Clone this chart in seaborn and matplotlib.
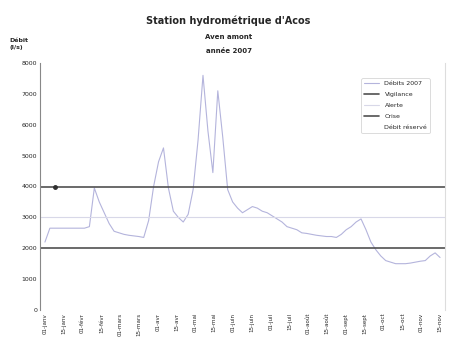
import numpy as np
import pandas as pd
import matplotlib
matplotlib.use("Agg")
import matplotlib.pyplot as plt
import seaborn as sns

# débits (pas régulier)
debits = [2200, 2650, 2650, 2650, 2650, 2650, 2650, 2650, 2650, 2700,
          3950, 3500, 3150, 2800, 2550, 2500, 2450, 2420, 2400, 2380,
          2350, 2900, 4000, 4800, 5250, 3950, 3200, 3000, 2850, 3100,
          3900, 5500, 7600, 5800, 4450, 7100, 5600, 3900, 3500, 3300,
          3150, 3250, 3350, 3300, 3200, 3150, 3050, 2950, 2850, 2700,
          2650, 2600, 2500, 2480, 2450, 2420, 2400, 2380, 2380, 2350,
          2450, 2600, 2700, 2850, 2950, 2600, 2200, 1950, 1750, 1600,
          1550, 1500, 1500, 1500, 1520, 1550, 1580, 1600, 1750, 1850, 1700]
vigilance = 4000
alerte = 3000
crise = 2000

dates = ["01-janv", "15-janv", "01-févr", "15-févr", "01-mars", "15-mars",
         "01-avr", "15-avr", "01-mai", "15-mai", "01-juin", "15-juin",
         "01-juil", "15-juil", "01-août", "15-août", "01-sept", "15-sept",
         "01-oct", "15-oct", "01-nov", "15-nov"]


def draw(graph_path):
    sns.set_style("white")
    df = pd.DataFrame({"x": np.arange(len(debits)), "debit": debits})

    fig = plt.figure(figsize=(4.57, 3.41), dpi=100)
    ax = fig.add_axes([40 / 457, 31 / 341, 405 / 457, 247 / 341])

    sns.lineplot(data=df, x="x", y="debit", ax=ax, color="#b4b4dc", lw=0.8,
                 label="Débits 2007")
    ax.axhline(vigilance, color="#505050", lw=1.2, label="Vigilance")
    ax.plot([2], [vigilance], "o", color="#303030", ms=2.5)
    ax.axhline(alerte, color="#d8d8e8", lw=0.8, label="Alerte")
    ax.axhline(crise, color="#505050", lw=1.2, label="Crise")
    ax.plot([], [], color="white", label="Débit réservé")

    ax.set_xlim(-1, len(debits))
    ax.set_ylim(0, 8000)
    ax.set_yticks(range(0, 8001, 1000))
    ax.set_yticklabels([str(v) for v in range(0, 8001, 1000)], fontsize=4.5)
    pos = np.linspace(0, len(debits) - 1, len(dates))
    ax.set_xticks(pos)
    ax.set_xticklabels(dates, rotation=90, fontsize=4)
    ax.tick_params(length=0, pad=2)
    ax.set_xlabel("")
    ax.set_ylabel("")
    for s in ["top"]:
        ax.spines[s].set_visible(False)
    ax.spines["left"].set_color("#888888")
    ax.spines["right"].set_color("#dddddd")
    ax.spines["bottom"].set_visible(False)

    leg = ax.legend(loc="upper right", bbox_to_anchor=(0.97, 0.95), fontsize=4.5,
                    frameon=True, handlelength=2.5, labelspacing=0.9)
    leg.get_frame().set_edgecolor("#cccccc")
    leg.get_frame().set_linewidth(0.6)

    fig.text(0.5, 0.93, "Station hydrométrique d'Acos", ha="center",
             fontsize=7, weight="bold")
    fig.text(0.5, 0.885, "Aven amont", ha="center", fontsize=5, weight="bold")
    fig.text(0.5, 0.845, "année 2007", ha="center", fontsize=5, weight="bold")
    fig.text(0.02, 0.855, "Débit\n(l/s)", ha="left", fontsize=4.5, weight="bold",
             linespacing=1.6)

    plt.savefig(graph_path, dpi=100)


def main():
    draw("out.png")


if __name__ == "__main__":
    main()
